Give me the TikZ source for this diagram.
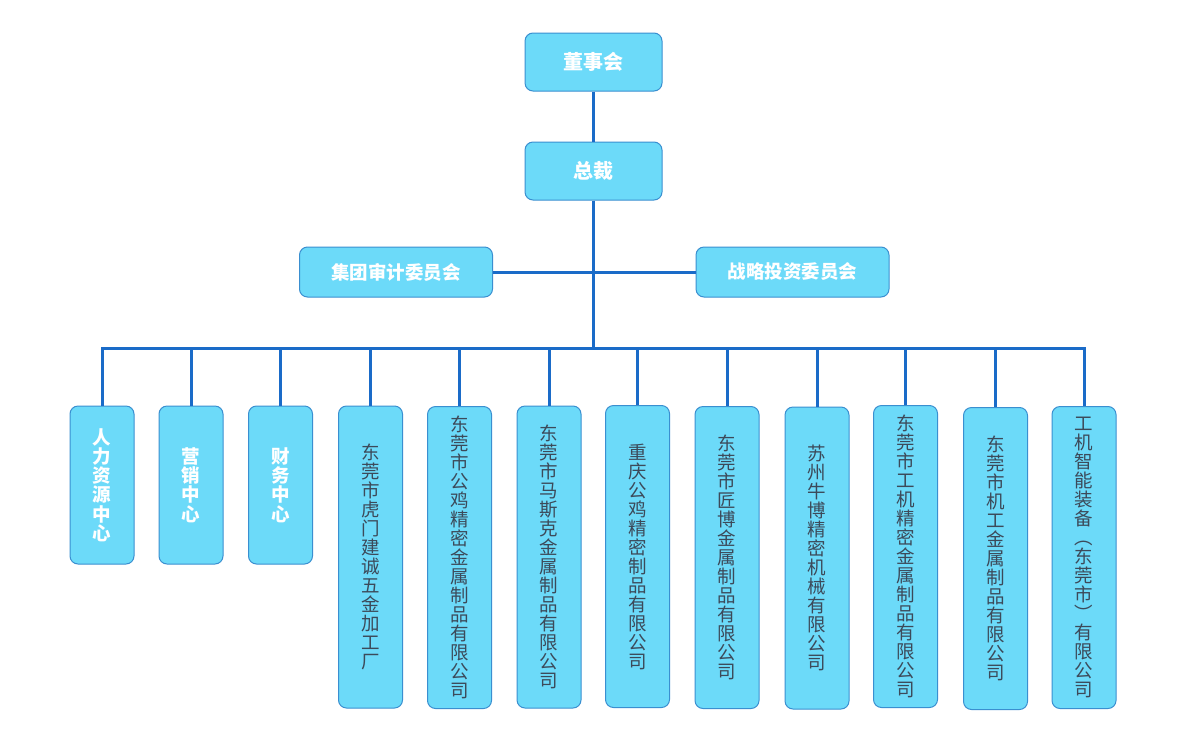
\documentclass[tikz,border=0pt]{standalone}
\usepackage{fontspec}
\newfontfamily\cjk{Noto Sans CJK SC}
\definecolor{boxfill}{HTML}{6CDAF9}
\definecolor{boxline}{HTML}{3A8FD0}
\definecolor{conn}{HTML}{1A6BC8}
\definecolor{txtgray}{HTML}{3C4A5A}
\tikzset{
  orgbox/.style={draw=boxline, fill=boxfill, line width=1pt, rounded corners=8pt, inner sep=0pt},
  topbox/.style={orgbox, minimum width=137pt, minimum height=58pt, text=white, font=\cjk\bfseries\fontsize{20}{22}\selectfont},
  combox/.style={orgbox, minimum width=193pt, minimum height=50pt, text=white, font=\cjk\bfseries\fontsize{18.5}{20}\selectfont},
  deptbox/.style={orgbox, minimum width=64pt, minimum height=158pt, text=white, align=center, font=\cjk\bfseries\fontsize{18.5}{19.2}\selectfont},
  compbox/.style={orgbox, minimum width=64pt, minimum height=302pt, text=txtgray, align=center, font=\cjk\fontsize{18.5}{19}\selectfont},
  link/.style={draw=conn, line width=3pt}
}
\begin{document}
\begin{tikzpicture}[x=1pt, y=-1pt]
\useasboundingbox (0,0) rectangle (1190,734);
\fill[white] (0,0) rectangle (1190,734);
% top
\node[topbox] (dsh) at (593.5,62) {董事会};
\node[topbox] (zc) at (593.5,171) {总裁};
\node[combox] (sj) at (396,272) {集团审计委员会};
\node[combox] (zl) at (792.5,272) {战略投资委员会};
\coordinate (bus) at (593.5,348);
\coordinate (busL) at (102,348);
\coordinate (busR) at (1084,348);
% bottom boxes
\node[deptbox] (b1) at (102,485) {人\\力\\资\\源\\中\\心};
\node[deptbox] (b2) at (191,485) {营\\销\\中\\心};
\node[deptbox] (b3) at (280.5,485) {财\\务\\中\\心};
\node[compbox] (b4) at (370.5,557) {东\\莞\\市\\虎\\门\\建\\诚\\五\\金\\加\\工\\厂};
\node[compbox] (b5) at (459.5,557.5) {东\\莞\\市\\公\\鸡\\精\\密\\金\\属\\制\\品\\有\\限\\公\\司};
\node[compbox] (b6) at (549,557) {东\\莞\\市\\马\\斯\\克\\金\\属\\制\\品\\有\\限\\公\\司};
\node[compbox] (b7) at (637.5,556.5) {重\\庆\\公\\鸡\\精\\密\\制\\品\\有\\限\\公\\司};
\node[compbox] (b8) at (727,557.5) {东\\莞\\市\\匠\\博\\金\\属\\制\\品\\有\\限\\公\\司};
\node[compbox] (b9) at (817,558) {苏\\州\\牛\\博\\精\\密\\机\\械\\有\\限\\公\\司};
\node[compbox] (b10) at (905.5,556.5) {东\\莞\\市\\工\\机\\精\\密\\金\\属\\制\\品\\有\\限\\公\\司};
\node[compbox] (b11) at (995.5,558.5) {东\\莞\\市\\机\\工\\金\\属\\制\\品\\有\\限\\公\\司};
\node[compbox] (b12) at (1084,557.5) {工\\机\\智\\能\\装\\备\\︵\\东\\莞\\市\\︶\\有\\限\\公\\司};
% connectors
\draw[link] (dsh.south) -- (zc.north);
\draw[link] (zc.south) -- (bus);
\draw[link] (sj.east) -- (zl.west);
\draw[link, line cap=rect] (busL) -- (busR);
\foreach \b in {b1,b2,b3,b4,b5,b6,b7,b8,b9,b10,b11,b12}{
  \draw[link] (\b.north |- bus) -- (\b.north);
}
\end{tikzpicture}
\end{document}
